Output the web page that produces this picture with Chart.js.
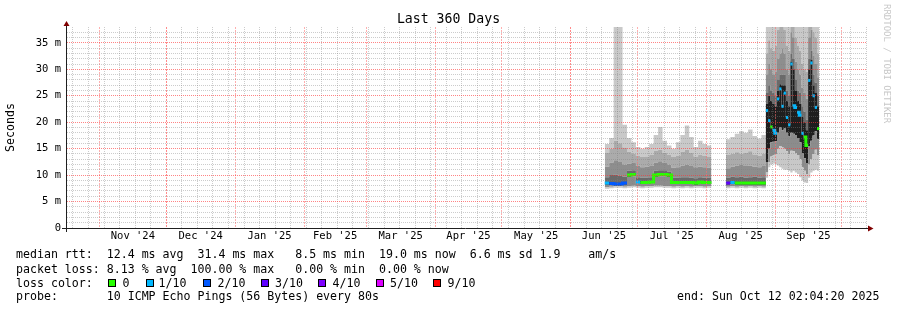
<!DOCTYPE html>
<html>
<head>
<meta charset="utf-8">
<title>Last 360 Days</title>
<script src="https://cdn.jsdelivr.net/npm/chart.js@4.4.1/dist/chart.umd.min.js"></script>
<style>
  body { margin: 0; background: #fff; }
  #wrap {
    position: relative;
    width: 897px;
    height: 310px;
    overflow: hidden;
    font-family: 'DejaVu Sans Mono', monospace;
    color: #000;
  }
  #wrap canvas { position: absolute; left: 0; top: 0; }
  .txt { position: absolute; white-space: pre; font-size: 11.6px; line-height: 14px; }
  .box { position: absolute; top: 279px; width: 8px; height: 8px; box-sizing: border-box; border: 1px solid #000; }
  #title { left: 0; width: 897px; text-align: center; top: 11px; font-size: 13.2px; line-height: 16px; }
  #mark {
    position: absolute; left: 882px; top: 4px;
    writing-mode: vertical-rl; font-size: 9px; line-height: 10px;
    color: #c8c8c8; white-space: pre;
  }
</style>
</head>
<body>
<div id="wrap">
  <canvas id="chart" width="897" height="310"></canvas>
  <div class="txt" id="title">Last 360 Days</div>
  <div id="mark">RRDTOOL / TOBI OETIKER</div>

  <div class="txt" style="left:16px;top:247px">median rtt:  12.4 ms avg  31.4 ms max   8.5 ms min  19.0 ms now  6.6 ms sd 1.9    am/s</div>
  <div class="txt" style="left:16px;top:261.5px">packet loss: 8.13 % avg  100.00 % max   0.00 % min  0.00 % now</div>
  <div class="txt" style="left:16px;top:275.5px">loss color:</div>
  <div id="lossLegend"></div>
  <div class="txt" style="left:16px;top:289px">probe:       10 ICMP Echo Pings (56 Bytes) every 80s</div>
  <div class="txt" style="left:677px;top:289px">end: Sun Oct 12 02:04:20 2025</div>
</div>

<script>
// x is measured in days since the start of the window (Oct 17 2024)
const binDays = [
  242, 244, 246, 248, 250, 252, 254, 256, 258, 260, 262, 264,
  266, 268, 270, 272, 274, 276, 278, 280, 282, 284, 286, 288,
  290,
  296.5, 298.5, 300.5, 302.5, 304.5, 306.5, 308.5, 310.5, 312.5,
  314.5, 315.5, 316.5, 317.5, 318.5, 319.5, 320.5, 321.5, 322.5, 323.5, 324.5, 325.5,
  326.5, 327.5, 328.5, 329.5, 330.5, 331.5, 332.5, 333.5, 334.5, 335.5, 336.5, 337.5,
];
const lastDay = 338.5;

// median rtt in ms, null = no data
const medianRtt = [
  8.5, 8.4, 8.3, 8.3, 8.5, 10.0, 10.1, 8.7, 8.6, 8.6, 8.7, 10.0,
  10.1, 10.1, 10.0, 8.6, 8.6, 8.6, 8.6, 8.6, 8.5, 8.7, 8.6, 8.6,
  null,
  8.5, 8.6, 8.5, 8.5, 8.5, 8.5, 8.5, 8.5, 8.5,
  22.2, 20.3, 19.1, 18.5, 17.9, 24.4, 26.3, 23.0, 25.5, 20.9, 19.5, 31.0,
  23.1, 22.8, 21.9, 21.3, 17.9, 17.2, 15.6, 27.9, 31.2, 25.0, 22.8, 18.8,
];

// lost pings out of 10
const lossTenths = [
  1, 2, 2, 2, 2, 0, 0, 1, 0, 0, 0, 0,
  0, 0, 0, 0, 0, 0, 0, 0, 0, 0, 0, 0,
  null,
  3, 1, 0, 0, 0, 0, 0, 0, 0,
  1, 1, 0, 1, 1, 1, 1, 1, 1, 1, 1, 1,
  1, 1, 1, 1, 1, 0, 0, 1, 1, 1, 1, 0,
];

// smoke boundaries (ms), lowest to highest
const smokeMin = [
  7.4, 7.5, 7.6, 7.6, 7.5, 7.6, 7.7, 7.6, 7.5, 7.6, 7.6, 7.7,
  7.7, 7.6, 7.6, 7.5, 7.6, 7.5, 7.6, 7.5, 7.6, 7.6, 7.5, 7.6,
  null,
  7.5, 7.6, 7.5, 7.6, 7.5, 7.6, 7.5, 7.6, 7.5,
  9.5, 11.5, 12.0, 12.2, 12.0, 11.8, 11.5, 11.2, 11.0, 11.0, 10.8, 10.5,
  10.8, 10.5, 10.2, 9.6, 9.0, 8.6, 8.5, 9.5, 10.5, 10.8, 11.0, 10.8,
];
const smokeLow2 = [
  7.7, 7.8, 7.9, 7.9, 7.8, 7.9, 8.0, 7.9, 7.8, 7.9, 7.9, 8.0,
  8.0, 7.9, 7.9, 7.8, 7.9, 7.8, 7.9, 7.8, 7.9, 7.9, 7.8, 7.9,
  null,
  7.8, 7.9, 7.8, 7.9, 7.8, 7.9, 7.8, 7.9, 7.8,
  10.5, 12.5, 13.5, 13.8, 14.0, 15.0, 15.5, 15.2, 15.0, 14.5, 14.0, 14.6,
  14.5, 14.2, 13.8, 13.0, 11.5, 10.8, 10.2, 12.0, 13.0, 14.0, 14.8, 13.8,
];
const smokeLow1 = [
  8.2, 8.1, 8.0, 8.0, 8.2, 9.7, 9.8, 8.4, 8.3, 8.3, 8.4, 9.7,
  9.8, 9.8, 9.7, 8.3, 8.3, 8.3, 8.3, 8.3, 8.2, 8.4, 8.3, 8.3,
  null,
  8.2, 8.3, 8.2, 8.2, 8.2, 8.2, 8.2, 8.2, 8.2,
  12.5, 15.0, 16.2, 16.3, 16.4, 18.0, 19.0, 18.5, 18.8, 18.0, 17.3, 18.0,
  17.8, 17.6, 17.0, 16.2, 14.2, 13.2, 12.3, 15.5, 16.5, 17.5, 18.3, 16.8,
];
const smokeHigh1 = [
  8.8, 8.7, 8.6, 8.6, 8.8, 10.3, 10.4, 9.0, 8.9, 8.9, 9.0, 10.3,
  10.4, 10.4, 10.3, 8.9, 8.9, 8.9, 8.9, 8.9, 8.8, 9.0, 8.9, 8.9,
  null,
  8.8, 8.9, 8.8, 8.8, 8.8, 8.8, 8.8, 8.8, 8.8,
  23.5, 25.0, 24.0, 23.5, 23.0, 26.0, 27.2, 27.0, 27.0, 24.0, 23.0, 31.5,
  30.0, 26.0, 24.0, 23.5, 21.0, 20.0, 18.5, 30.0, 31.8, 27.0, 25.5, 23.0,
];
const smokeHigh2 = [
  9.6, 10.0, 10.1, 9.9, 9.7, 10.8, 10.9, 9.6, 9.5, 9.5, 9.6, 10.8,
  10.9, 10.9, 10.7, 9.5, 9.5, 9.6, 9.6, 9.5, 9.4, 9.6, 9.5, 9.5,
  null,
  9.5, 9.7, 9.6, 9.7, 9.5, 9.6, 9.7, 9.5, 9.6,
  25.5, 27.0, 26.0, 25.5, 25.0, 28.0, 29.0, 29.0, 29.0, 26.0, 25.0, 33.0,
  32.0, 28.0, 26.0, 25.5, 23.0, 22.0, 20.5, 32.0, 33.5, 29.0, 27.5, 25.0,
];
const smokeHigh3 = [
  11.6, 12.4, 12.8, 12.5, 12.0, 12.2, 12.3, 11.8, 11.5, 11.6, 11.7, 12.4,
  12.6, 12.3, 12.0, 11.4, 11.5, 11.8, 12.0, 11.7, 11.5, 11.6, 11.5, 11.4,
  null,
  11.3, 11.6, 11.8, 11.9, 11.7, 11.8, 11.6, 11.5, 11.7,
  29.0, 31.0, 30.0, 29.0, 29.5, 32.0, 33.0, 34.0, 33.0, 30.0, 29.0, 37.0,
  36.0, 31.5, 30.0, 29.0, 26.5, 25.5, 24.5, 36.0, 37.5, 32.5, 31.0, 28.5,
];
const smokeHigh4 = [
  14.2, 15.0, 16.5, 16.0, 15.2, 14.4, 14.0, 13.6, 13.4, 13.5, 13.8, 14.6,
  14.8, 14.2, 13.8, 13.4, 13.6, 14.4, 14.8, 14.2, 13.5, 13.8, 13.6, 13.5,
  null,
  13.8, 14.0, 14.3, 14.0, 14.2, 14.5, 13.9, 13.6, 14.1,
  33.0, 35.5, 34.0, 33.5, 34.5, 37.5, 40, 40, 37.5, 34.5, 33.5, 40,
  40, 36.0, 34.5, 33.5, 31.0, 30.0, 29.5, 40, 40, 37.0, 36.0, 33.0,
];
const smokeMax = [
  15.9, 17.0, 40, 40, 19.5, 17.0, 16.2, 15.3, 15.0, 15.3, 15.9, 17.6,
  19.1, 16.5, 15.6, 15.0, 16.2, 17.6, 19.4, 17.2, 15.3, 16.5, 15.9, 15.6,
  null,
  16.8, 17.2, 17.8, 18.3, 18.0, 18.6, 17.4, 16.9, 17.6,
  40, 40, 40, 40, 40, 40, 40, 40, 40, 40, 40, 40,
  40, 40, 40, 40, 40, 40, 40, 40, 40, 40, 40, 40,
];

// fill colour of the band that ends at each boundary
const smokeColors = ['#c8c8c8', '#8c8c8c', '#1e1e1e', '#1e1e1e', '#6a6a6a', '#8e8e8e', '#ababab', '#c9c9c9'];

const lossColors = { 0: '#26ff00', 1: '#00b8ff', 2: '#0059ff', 3: '#5e00ff', 4: '#7e00ff', 5: '#dd00ff', 9: '#ff0000' };
const lossLabels = ['0', '1/10', '2/10', '3/10', '4/10', '5/10', '9/10'];
const lossKeys = [0, 1, 2, 3, 4, 5, 9];

// axis: month boundaries, month label positions, first sunday
const monthLines = [14.65, 44.65, 75.65, 106.65, 134.65, 165.65, 195.65, 226.65, 256.65, 287.65, 318.65, 348.65];
const monthLabelDays = [29.65, 60.15, 91.15, 120.65, 150.15, 180.65, 211.15, 241.65, 272.15, 303.15, 333.65];
const monthLabels = ["Nov '24", "Dec '24", "Jan '25", "Feb '25", "Mar '25", "Apr '25", "May '25", "Jun '25", "Jul '25", "Aug '25", "Sep '25"];
const firstSunday = 2.65;
const yMax = 38;

// legend boxes (html)
const boxLeft = [108, 146, 203, 261, 318, 376, 433];
const labelLeft = [122.5, 158.5, 217.5, 275, 332.5, 390, 447.5];
const legendEl = document.getElementById('lossLegend');
lossKeys.forEach((k, i) => {
  const b = document.createElement('div');
  b.className = 'box';
  b.style.left = boxLeft[i] + 'px';
  b.style.background = lossColors[k];
  legendEl.appendChild(b);
  const t = document.createElement('div');
  t.className = 'txt';
  t.style.left = labelLeft[i] + 'px';
  t.style.top = '275.5px';
  t.textContent = lossLabels[i];
  legendEl.appendChild(t);
});

// turn per-bin values into step points
function stepPoints(values) {
  const pts = [];
  values.forEach((v, i) => {
    const x0 = binDays[i];
    const x1 = i + 1 < binDays.length ? binDays[i + 1] : lastDay;
    if (v === null) {
      pts.push({ x: x0, y: null });
      return;
    }
    pts.push({ x: x0, y: v }, { x: x1, y: v });
  });
  return pts;
}

const boundaries = [smokeMin, smokeLow2, smokeLow1, medianRtt, smokeHigh1, smokeHigh2, smokeHigh3, smokeHigh4, smokeMax];
const datasets = boundaries.map((values, i) => ({
  data: stepPoints(values),
  borderWidth: 0,
  pointRadius: 0,
  backgroundColor: i === 0 ? 'transparent' : smokeColors[i - 1],
  fill: i === 0 ? false : '-1',
  spanGaps: false,
}));

const lossPts = [];
lossTenths.forEach((l) => {
  if (l === null) lossPts.push(null);
  else lossPts.push(l, l);
});

datasets.push({
  data: stepPoints(medianRtt),
  borderWidth: 3,
  borderColor: lossColors[0],
  borderCapStyle: 'butt',
  pointRadius: 0,
  fill: false,
  spanGaps: false,
  order: -1,
  segment: {
    borderColor: (ctx) => {
      const la = lossPts[ctx.p0DataIndex];
      const lb = lossPts[ctx.p1DataIndex];
      if (ctx.p0.parsed.x !== ctx.p1.parsed.x) return lossColors[la];
      const jump = Math.abs(ctx.p0.parsed.y - ctx.p1.parsed.y);
      if (la === lb && jump < (la === 0 ? 1.8 : 0.8)) return lossColors[la];
      return 'rgba(0,0,0,0)';
    },
  },
});

const weekLines = [];
for (let d = firstSunday; d < 360; d += 7) weekLines.push(d);

const minorGrid = 'rgba(128,128,128,0.4)';
const majorGridH = 'rgba(255,50,50,0.6)';
const majorGridV = 'rgba(255,110,110,0.55)';
const tickFont = { family: "'DejaVu Sans Mono', monospace", size: 10.5 };

const isMonth = (ctx) => !!ctx.tick && monthLines.indexOf(ctx.tick.value) >= 0;

function gridColorX(ctx) {
  if (!ctx.tick) return 'rgba(0,0,0,0)';
  const v = ctx.tick.value;
  if (monthLines.indexOf(v) >= 0) return majorGridV;
  if (weekLines.indexOf(v) >= 0) return minorGrid;
  return 'rgba(0,0,0,0)';
}

function gridColorY(ctx) {
  if (!ctx.tick) return 'rgba(0,0,0,0)';
  const v = ctx.tick.value;
  if (v === 0) return 'rgba(0,0,0,0)';
  return v % 5 === 0 ? majorGridH : minorGrid;
}

// axis lines with arrows, like rrdtool draws them
const axisArrows = {
  id: 'axisArrows',
  afterDraw(chart) {
    const { ctx, chartArea: a } = chart;
    const bx = Math.floor(a.left) - 0.5;
    const by = Math.floor(a.bottom) + 0.5;
    ctx.save();
    ctx.strokeStyle = '#1f1f1f';
    ctx.lineWidth = 1;
    ctx.beginPath();
    ctx.moveTo(bx - 4.5, by);
    ctx.lineTo(a.right + 2, by);
    ctx.moveTo(bx, by + 3.5);
    ctx.lineTo(bx, a.top - 3);
    ctx.stroke();
    ctx.fillStyle = '#800000';
    ctx.beginPath();
    ctx.moveTo(bx - 3, a.top - 1);
    ctx.lineTo(bx + 3, a.top - 1);
    ctx.lineTo(bx, a.top - 6);
    ctx.closePath();
    ctx.fill();
    ctx.beginPath();
    ctx.moveTo(a.right + 1, by - 3);
    ctx.lineTo(a.right + 1, by + 3);
    ctx.lineTo(a.right + 6.5, by);
    ctx.closePath();
    ctx.fill();
    ctx.restore();
  },
};

new Chart(document.getElementById('chart'), {
  type: 'line',
  data: { datasets },
  plugins: [axisArrows],
  options: {
    responsive: false,
    animation: false,
    devicePixelRatio: 1,
    events: [],
    layout: { padding: { top: 27, right: 30, left: 0, bottom: 0 } },
    plugins: { legend: { display: false }, tooltip: { enabled: false } },
    elements: { line: { tension: 0 } },
    scales: {
      x: {
        type: 'linear',
        min: 0,
        max: 360,
        afterFit: (scale) => { scale.height = 82; },
        afterBuildTicks: (scale) => {
          const vals = [...weekLines, ...monthLines, ...monthLabelDays];
          scale.ticks = vals.map((v) => ({ value: v }));
        },
        ticks: {
          autoSkip: false,
          maxRotation: 0,
          minRotation: 0,
          padding: 2,
          color: '#000',
          font: tickFont,
          callback: (v) => {
            const i = monthLabelDays.indexOf(v);
            return i >= 0 ? monthLabels[i] : '';
          },
        },
        grid: {
          z: 1,
          drawTicks: false,
          lineWidth: 1,
          color: gridColorX,
        },
        border: { display: false, dash: (ctx) => (isMonth(ctx) ? [2, 1] : [1, 1]) },
      },
      y: {
        type: 'linear',
        min: 0,
        max: yMax,
        afterFit: (scale) => { scale.width = 67; },
        afterBuildTicks: (scale) => {
          const vals = [];
          for (let v = 0; v <= 37; v++) vals.push({ value: v });
          scale.ticks = vals;
        },
        ticks: {
          autoSkip: false,
          padding: 6,
          color: '#000',
          font: tickFont,
          callback: (v) => (v % 5 === 0 ? (v === 0 ? '0' : v + ' m') : ''),
        },
        title: {
          display: true,
          text: 'Seconds',
          color: '#000',
          font: { family: "'DejaVu Sans Mono', monospace", size: 11.6 },
          padding: { top: 4, bottom: 0 },
        },
        grid: {
          z: 1,
          drawTicks: false,
          lineWidth: 1,
          color: gridColorY,
        },
        border: { display: false, dash: [1, 1] },
      },
    },
  },
});
</script>
</body>
</html>
